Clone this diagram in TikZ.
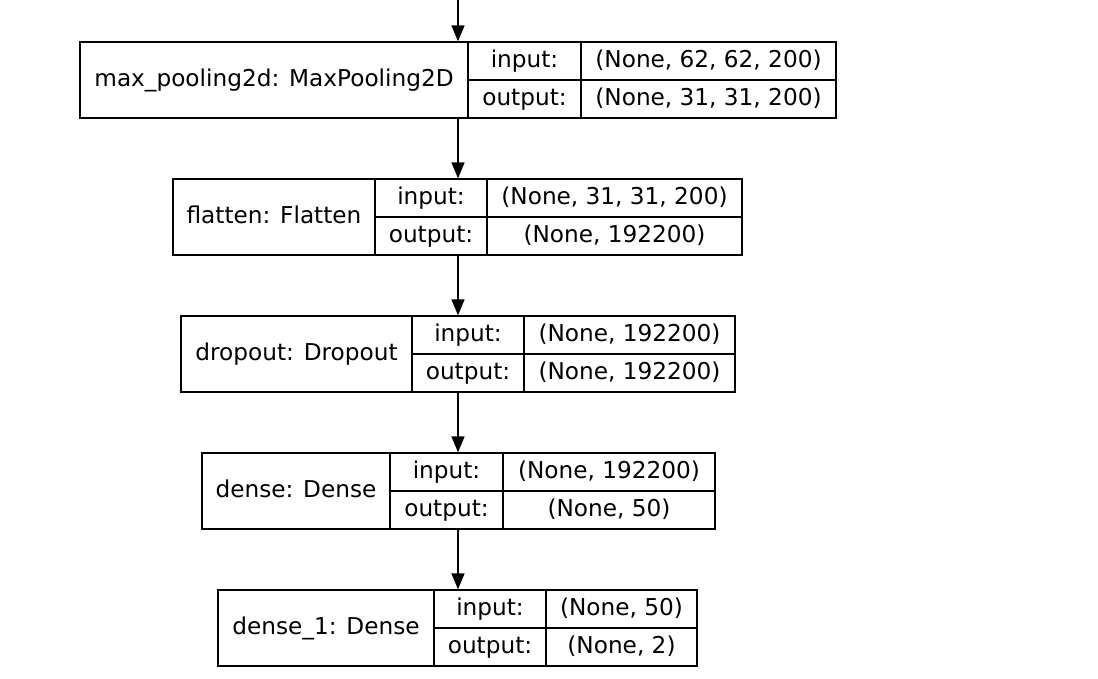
\documentclass[tikz,border=0pt]{standalone}
\usepackage{fontspec}
\setmainfont{DejaVu Sans}
\usetikzlibrary{arrows.meta}
\tikzset{
	txt/.style={inner sep=0pt, text height=18pt, text depth=5pt},
	record/.style={draw, line width=1.3pt, inner sep=0pt, minimum height=76pt},
	cell/.style={txt, draw, line width=1.3pt, minimum height=38pt},
	flow/.style={-{Triangle[length=16pt,width=13pt]}, line width=1.3pt}
}
\begin{document}
\begin{tikzpicture}[x=1pt, y=-1pt, font=\fontsize{23.2}{27}\selectfont]
				\useasboundingbox (0,0) rectangle (1098,678);
				\coordinate (start) at (458,0);
				
				%max pooling
				\node[record, minimum width=756pt] (pool) at (458, 80){};
				\node[txt] (pool-name) at (274, 80){max\_pooling2d: MaxPooling2D};
				\node[cell, minimum width=113pt] (pool-in) at (524.5, 61){input:};
				\node[cell, minimum width=113pt] (pool-out) at (524.5, 99){output:};
				\node[cell, minimum width=255pt] (pool-inval) at (708.5, 61){(None, 62, 62, 200)};
				\node[cell, minimum width=255pt] (pool-outval) at (708.5, 99){(None, 31, 31, 200)};
				
				%flatten
				\node[record, minimum width=569pt] (flat) at (457.5, 217){};
				\node[txt] (flat-name) at (274, 217){flatten: Flatten};
				\node[cell, minimum width=112pt] (flat-in) at (431, 198){input:};
				\node[cell, minimum width=112pt] (flat-out) at (431, 236){output:};
				\node[cell, minimum width=255pt] (flat-inval) at (614.5, 198){(None, 31, 31, 200)};
				\node[cell, minimum width=255pt] (flat-outval) at (614.5, 236){(None, 192200)};
				
				%dropout
				\node[record, minimum width=554pt] (drop) at (458, 354){};
				\node[txt] (drop-name) at (296.5, 354){dropout: Dropout};
				\node[cell, minimum width=112pt] (drop-in) at (468, 335){input:};
				\node[cell, minimum width=112pt] (drop-out) at (468, 373){output:};
				\node[cell, minimum width=211pt] (drop-inval) at (629.5, 335){(None, 192200)};
				\node[cell, minimum width=211pt] (drop-outval) at (629.5, 373){(None, 192200)};
				
				%dense
				\node[record, minimum width=513pt] (dense) at (458.5, 491){};
				\node[txt] (dense-name) at (296, 491){dense: Dense};
				\node[cell, minimum width=113pt] (dense-in) at (446.5, 472){input:};
				\node[cell, minimum width=113pt] (dense-out) at (446.5, 510){output:};
				\node[cell, minimum width=212pt] (dense-inval) at (609, 472){(None, 192200)};
				\node[cell, minimum width=212pt] (dense-outval) at (609, 510){(None, 50)};
				
				%dense 1
				\node[record, minimum width=479pt] (out) at (457.5, 628){};
				\node[txt] (out-name) at (326, 628){dense\_1: Dense};
				\node[cell, minimum width=112pt] (out-in) at (490, 609){input:};
				\node[cell, minimum width=112pt] (out-out) at (490, 647){output:};
				\node[cell, minimum width=151pt] (out-inval) at (621.5, 609){(None, 50)};
				\node[cell, minimum width=151pt] (out-outval) at (621.5, 647){(None, 2)};
				
				%arrows
				\draw[flow] (start) -- (pool.north);
				\draw[flow] (pool.south) -- (pool.south |- flat.north);
				\draw[flow] (drop.north |- flat.south) -- (drop.north);
				\draw[flow] (drop.south) -- (drop.south |- dense.north);
				\draw[flow] (drop.south |- dense.south) -- (drop.south |- out.north);
			\end{tikzpicture}
\end{document}
